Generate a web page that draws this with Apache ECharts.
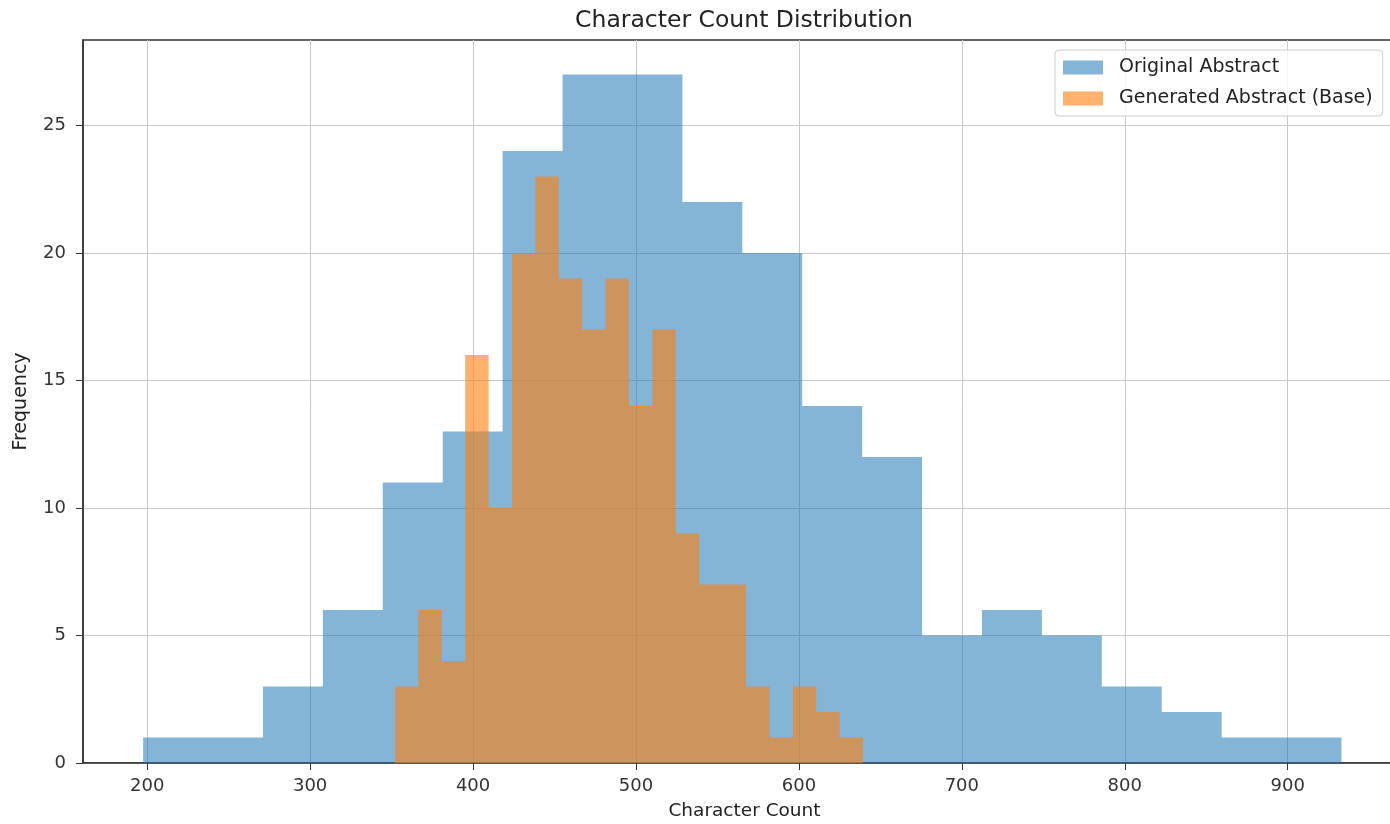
<!DOCTYPE html>
<html>
<head>
<meta charset="utf-8">
<script src="https://cdn.jsdelivr.net/npm/echarts@6/dist/echarts.min.js"></script>
<style>
  html, body { margin: 0; padding: 0; background: #fff; }
  #chart { width: 1390px; height: 824px; }
</style>
</head>
<body>
<div id="chart"></div>
<script>
// histogram counts, 20 equal bins each
var blueCounts = [1, 1, 3, 6, 11, 13, 24, 27, 27, 22, 20, 14, 12, 5, 6, 5, 3, 2, 1, 1];
var blueRange = [197.5, 933.0];
var orangeCounts = [3, 6, 4, 16, 10, 20, 23, 19, 17, 19, 14, 17, 9, 7, 7, 3, 1, 3, 2, 1];
var orangeRange = [352.1, 639.3];

var xTicks = [200, 300, 400, 500, 600, 700, 800, 900];
var yTicks = [0, 5, 10, 15, 20, 25];
var seriesNames = ['Original Abstract', 'Generated Abstract (Base)'];

// step outline of a histogram: one point per bin edge, last count repeated at the end
function steps(counts, range) {
    var n = counts.length;
    var w = (range[1] - range[0]) / n;
    var pts = counts.map(function (c, i) {
        return [range[0] + w * i, c];
    });
    pts.push([range[1], counts[n - 1]]);
    return pts;
}

function histSeries(name, counts, range, color) {
    return {
        name: name,
        type: 'line',
        step: 'end',
        symbol: 'none',
        data: steps(counts, range),
        itemStyle: { color: color },
        lineStyle: { width: 0 },
        areaStyle: { color: color, opacity: 1, origin: 'start' }
    };
}

var font = 'DejaVu Sans';
var chart = echarts.init(document.getElementById('chart'));

chart.setOption({
    animation: false,
    textStyle: { fontFamily: font },
    title: {
        text: 'Character Count Distribution',
        left: 744,
        textAlign: 'center',
        top: 9,
        padding: 0,
        textStyle: { fontFamily: font, fontSize: 23.5, fontWeight: 'normal', color: '#222' }
    },
    legend: {
        orient: 'vertical',
        left: 1055,
        top: 50,
        padding: [8, 10, 8, 8],
        itemWidth: 40,
        itemHeight: 14,
        itemGap: 12,
        icon: 'rect',
        borderColor: '#cccccc',
        borderWidth: 1,
        borderRadius: 4,
        backgroundColor: 'rgba(255,255,255,0.8)',
        data: seriesNames,
        textStyle: { fontFamily: font, fontSize: 19, color: '#222', lineHeight: 16, padding: [0, 0, 0, 11] }
    },
    grid: {
        left: 83,
        right: -16,
        top: 40,
        bottom: 61,
        outerBoundsMode: 'none',
        containLabel: false,
        show: true,
        borderColor: '#333',
        borderWidth: 1.5
    },
    xAxis: {
        type: 'value',
        min: 160.6,
        max: 972.6,
        name: 'Character Count',
        nameLocation: 'middle',
        nameGap: 39,
        nameTextStyle: { fontFamily: font, fontSize: 18.5, color: '#222' },
        axisLine: { show: true, lineStyle: { color: '#333', width: 1.5 } },
        axisTick: { show: true, length: 7, customValues: xTicks, lineStyle: { color: '#333' } },
        axisLabel: { customValues: xTicks, fontFamily: font, fontSize: 18, color: '#333', margin: 14 },
        splitLine: { show: true, lineStyle: { color: '#c8c8c8', width: 1 } }
    },
    yAxis: {
        type: 'value',
        min: 0,
        max: 28.35,
        name: 'Frequency',
        nameLocation: 'middle',
        nameRotate: 90,
        nameGap: 52,
        nameTextStyle: { fontFamily: font, fontSize: 19, color: '#222' },
        axisLine: { show: true, lineStyle: { color: '#333', width: 1.5 } },
        axisTick: { show: true, length: 7, customValues: yTicks, lineStyle: { color: '#333' } },
        axisLabel: { customValues: yTicks, fontFamily: font, fontSize: 18, color: '#333', margin: 17 },
        splitLine: { show: true, lineStyle: { color: '#c8c8c8', width: 1 } }
    },
    series: [
        histSeries(seriesNames[0], blueCounts, blueRange, 'rgba(31,119,180,0.55)'),
        histSeries(seriesNames[1], orangeCounts, orangeRange, 'rgba(255,127,14,0.6)')
    ]
});
</script>
</body>
</html>
